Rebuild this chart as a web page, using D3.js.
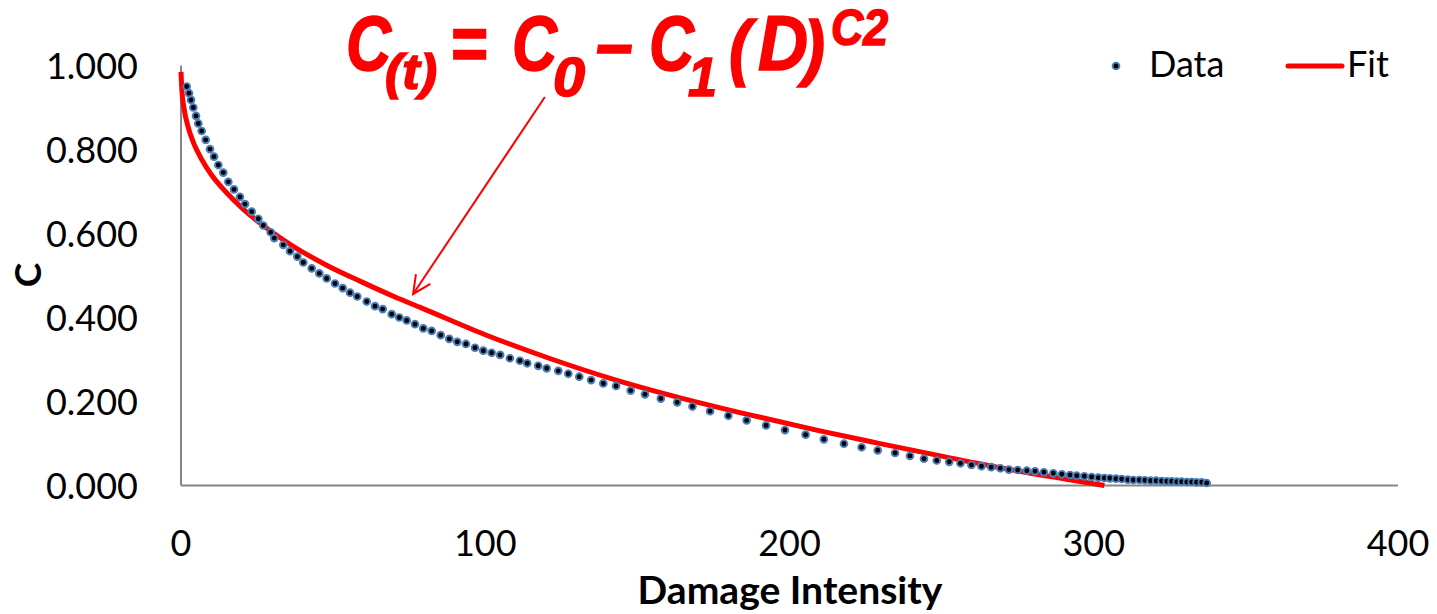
<!DOCTYPE html>
<meta charset="utf-8">
<style>
  html, body { margin: 0; padding: 0; background: white; }
  svg { display: block; }
  .tick-label { font-family: Lato, "Open Sans", sans-serif; font-size: 36px; fill: black; }
  .axis-title { font-family: Lato, "Open Sans", sans-serif; font-weight: bold; fill: black; }
  .formula { font-family: "Liberation Sans", Arial, sans-serif; font-weight: bold; font-style: italic; fill: #ff0000; stroke: #ff0000; stroke-width: 1.6; }
</style>
<body></body>
<script src="https://cdn.jsdelivr.net/npm/d3@7"></script>
<script>
  // measured data points (damage intensity, C)
  const dataD = [1.87, 2.63, 3.29, 4.04, 4.93, 5.69, 6.80, 8.12, 9.53, 10.85, 12.26, 13.90, 15.55, 17.42, 19.39,
    21.04, 23.24, 25.41, 27.05, 29.48, 30.67, 33.62, 35.83, 38.23, 40.20, 42.96, 45.46, 47.89, 50.62, 53.15,
    55.55, 57.95, 61.04, 63.77, 66.29, 69.25, 71.75, 74.18, 76.91, 79.64, 82.40, 85.36, 88.18, 90.81, 93.67,
    96.63, 99.36, 102.1, 104.9, 108.1, 111.4, 113.8, 117.4, 120.2, 124.0, 127.3, 130.9, 134.8, 138.8, 143.0,
    147.8, 152.5, 157.7, 163.1, 168.1, 173.9, 179.9, 185.9, 192.3, 198.5, 205.3, 211.3, 217.9, 223.7, 229.0,
    234.7, 239.6, 244.2, 248.4, 252.5, 256.2, 259.8, 263.1, 266.3, 269.3, 272.1, 275.0, 278.0, 280.7, 283.6,
    286.7, 289.5, 292.2, 294.4, 296.9, 299.3, 301.5, 303.5, 305.3, 307.3, 309.2, 311.2, 313.0, 315.0, 316.8,
    318.7, 320.5, 322.3, 324.0, 325.6, 327.3, 328.9, 330.6, 332.2, 333.8, 335.5, 337.1];
  const dataC = [0.950, 0.934, 0.918, 0.900, 0.880, 0.862, 0.844, 0.823, 0.801, 0.783, 0.763, 0.745, 0.723, 0.705, 0.687,
    0.670, 0.652, 0.635, 0.619, 0.603, 0.589, 0.573, 0.558, 0.545, 0.531, 0.517, 0.505, 0.493, 0.481, 0.470,
    0.459, 0.450, 0.438, 0.427, 0.420, 0.408, 0.400, 0.393, 0.384, 0.374, 0.368, 0.358, 0.349, 0.342, 0.337,
    0.328, 0.321, 0.316, 0.311, 0.303, 0.297, 0.291, 0.285, 0.279, 0.273, 0.266, 0.259, 0.251, 0.243, 0.237,
    0.226, 0.217, 0.207, 0.198, 0.188, 0.177, 0.166, 0.155, 0.143, 0.132, 0.121, 0.110, 0.0995, 0.091, 0.0838,
    0.0774, 0.0705, 0.0638, 0.0595, 0.0564, 0.0529, 0.0488, 0.046, 0.0436, 0.041, 0.0379, 0.0369, 0.0352, 0.0338, 0.0314,
    0.029, 0.0267, 0.025, 0.0233, 0.0219, 0.0202, 0.0186, 0.0179, 0.0171, 0.0162, 0.0155, 0.0138, 0.0131, 0.0131, 0.0124,
    0.0114, 0.0114, 0.0107, 0.010, 0.010, 0.009, 0.009, 0.0083, 0.0083, 0.0076, 0.0076, 0.006];

  // fitted curve
  const fitD = [0, 0.3, 1, 2.4, 4, 7, 10, 15, 20, 25, 30, 37, 48, 59, 70, 79, 100, 121, 143, 165, 187, 210,
    229, 250, 271, 291, 303.5];
  const fitC = [0.985, 0.94, 0.898, 0.852, 0.818, 0.774, 0.740, 0.697, 0.661, 0.630, 0.603, 0.569, 0.524, 0.486,
    0.450, 0.423, 0.359, 0.303, 0.251, 0.207, 0.168, 0.130, 0.101, 0.070, 0.040, 0.015, 0.0];

  const xTicks = [0, 100, 200, 300, 400];
  const yTicks = [0, 0.2, 0.4, 0.6, 0.8, 1.0];
  const legendItems = ['Data', 'Fit'];

  const W = 1437, H = 614;
  const svg = d3.select('body').append('svg').attr('width', W).attr('height', H);

  const x = d3.scaleLinear().domain([0, 400]).range([181, 1398]);
  const y = d3.scaleLinear().domain([0, 1]).range([485.5, 65.5]);

  const axisColor = '#868686';
  const dotFill = '#000000', dotStroke = '#4a7ebb';

  // axes lines
  svg.append('line')
    .attr('x1', x(0)).attr('x2', x(0)).attr('y1', y(1)).attr('y2', y(0))
    .attr('stroke', axisColor).attr('stroke-width', 2);
  svg.append('line')
    .attr('x1', x(0)).attr('x2', x(400)).attr('y1', y(0)).attr('y2', y(0))
    .attr('stroke', axisColor).attr('stroke-width', 2);

  // tick labels
  svg.append('g').selectAll('text')
    .data(yTicks)
    .join('text')
    .attr('class', 'tick-label')
    .attr('x', 138).attr('y', d => y(d) + 13)
    .attr('text-anchor', 'end')
    .text(d => d3.format('.3f')(d));

  svg.append('g').selectAll('text')
    .data(xTicks)
    .join('text')
    .attr('class', 'tick-label')
    .attr('x', d => x(d)).attr('y', 556)
    .attr('text-anchor', 'middle')
    .text(d => d);

  // axis titles
  const xt = svg.append('text').attr('class', 'axis-title')
    .attr('x', 790).attr('y', 604).attr('text-anchor', 'middle')
    .style('font-size', '36px').text('Damage Intensity');
  const xtw = xt.node().getComputedTextLength();
  xt.style('font-size', (36 * 305 / xtw) + 'px');

  svg.append('text').attr('class', 'axis-title')
    .attr('transform', 'translate(41, 275) rotate(-90)')
    .attr('text-anchor', 'middle')
    .style('font-size', '37px').text('C');

  // fit line
  const line = d3.line().x(d => x(d[0])).y(d => y(d[1])).curve(d3.curveMonotoneX);
  svg.append('path')
    .datum(fitD.map((d, i) => [d, fitC[i]]))
    .attr('d', line)
    .attr('fill', 'none')
    .attr('stroke', '#ff0000')
    .attr('stroke-width', 5)
    .attr('stroke-linejoin', 'round');

  // data points
  svg.append('g').selectAll('circle')
    .data(dataD.map((d, i) => [d, dataC[i]]))
    .join('circle')
    .attr('cx', d => x(d[0])).attr('cy', d => y(d[1]))
    .attr('r', 3.4)
    .attr('fill', dotFill)
    .attr('stroke', dotStroke)
    .attr('stroke-width', 1.9);

  // legend
  const leg = svg.append('g');
  leg.append('circle').attr('cx', 1116).attr('cy', 66).attr('r', 3.4)
    .attr('fill', dotFill).attr('stroke', dotStroke).attr('stroke-width', 1.9);
  leg.append('text').attr('class', 'tick-label').attr('x', 1149).attr('y', 77).text(legendItems[0]);
  leg.append('line').attr('x1', 1288).attr('x2', 1342).attr('y1', 66).attr('y2', 66)
    .attr('stroke', '#ff0000').attr('stroke-width', 5).attr('stroke-linecap', 'round');
  leg.append('text').attr('class', 'tick-label').attr('x', 1347).attr('y', 77).text(legendItems[1]);

  // equation annotation, one text element built from positioned pieces
  const formula = [
    {t: 'C', x: 346, y: 70, fs: 78, w: 45},
    {t: '(t)', x: 385, y: 89, fs: 50, w: 52},
    {t: '=', x: 450, y: 70, fs: 78, w: 37},
    {t: 'C', x: 512, y: 70, fs: 78, w: 45},
    {t: '0', x: 553, y: 96, fs: 56, w: 32},
    {t: '\u2013', x: 596, y: 70, fs: 78, w: 37},
    {t: 'C', x: 649, y: 70, fs: 78, w: 45},
    {t: '1', x: 688, y: 96, fs: 56, w: 29},
    {t: '(', x: 729, y: 72, fs: 72, w: 22},
    {t: 'D', x: 758, y: 70, fs: 78, w: 50},
    {t: ')', x: 803, y: 72, fs: 72, w: 22},
    {t: 'C2', x: 831, y: 45, fs: 50, w: 57}
  ];
  svg.append('text')
    .attr('class', 'formula')
    .selectAll('tspan')
    .data(formula)
    .join('tspan')
    .attr('x', d => d.x).attr('y', d => d.y)
    .attr('textLength', d => d.w)
    .attr('lengthAdjust', 'spacingAndGlyphs')
    .style('font-size', d => d.fs + 'px')
    .text(d => d.t);

  // arrow from equation to the curve
  const arrowFrom = [119.6, 0.925], arrowTo = [76.3, 0.456];
  const ax1 = x(arrowFrom[0]), ay1 = y(arrowFrom[1]);
  const ax2 = x(arrowTo[0]), ay2 = y(arrowTo[1]);
  svg.append('line')
    .attr('x1', ax1).attr('y1', ay1).attr('x2', ax2).attr('y2', ay2)
    .attr('stroke', '#ff0000').attr('stroke-width', 2);
  const ang = Math.atan2(ay2 - ay1, ax2 - ax1);
  const hl = 20, spread = 0.45;
  const head = [ang + Math.PI - spread, ang + Math.PI + spread].map(a => [ax2 + hl * Math.cos(a), ay2 + hl * Math.sin(a)]);
  svg.append('path')
    .attr('d', `M${head[0][0]},${head[0][1]}L${ax2},${ay2}L${head[1][0]},${head[1][1]}`)
    .attr('fill', 'none').attr('stroke', '#ff0000').attr('stroke-width', 2);
</script>
